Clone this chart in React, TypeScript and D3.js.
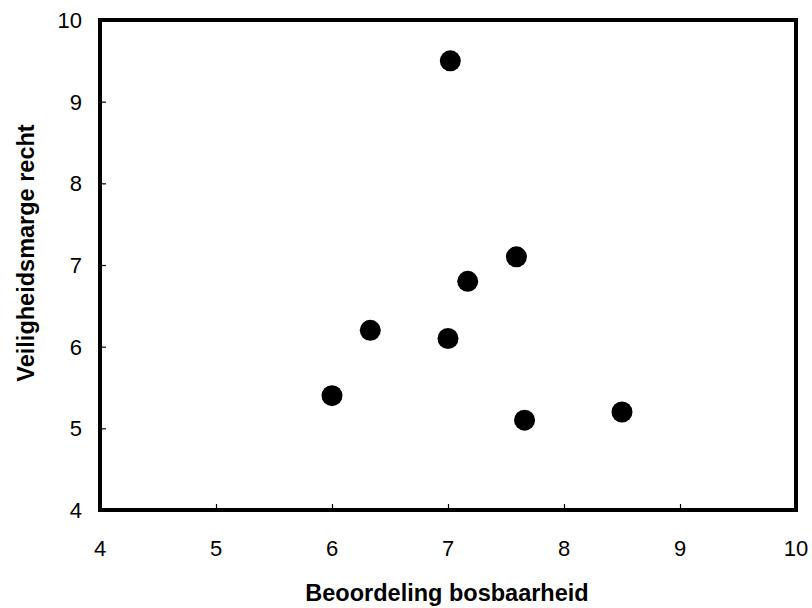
import React, { useEffect, useRef } from "react"
import * as d3 from "d3"

// beoordeling bosbaarheid (x) vs veiligheidsmarge recht (y)
const xValues = [7.02, 7.59, 7.17, 6.33, 7.0, 6.0, 7.66, 8.5]
const yValues = [9.5, 7.1, 6.8, 6.2, 6.1, 5.4, 5.1, 5.2]
const xTicks = [4, 5, 6, 7, 8, 9, 10]
const yTicks = [4, 5, 6, 7, 8, 9, 10]
const xTitle = "Beoordeling bosbaarheid"
const yTitle = "Veiligheidsmarge recht"

const width = 812
const height = 608
const margin = { top: 20, right: 16, bottom: 98, left: 100 }
const font = "'Liberation Sans', Arial, Helvetica, sans-serif"

const App = () => {
  const ref = useRef<SVGSVGElement>(null)

  useEffect(() => {
    const svg = d3.select(ref.current)
    svg.selectAll("*").remove()

    const x = d3.scaleLinear().domain([4, 10]).range([margin.left, width - margin.right])
    const y = d3.scaleLinear().domain([4, 10]).range([height - margin.bottom, margin.top])

    const x0 = x(4), x1 = x(10), y0 = y(4), y1 = y(10)

    // tick marks pointing inward
    svg
      .append("g")
      .attr("transform", `translate(0,${y0})`)
      .call(d3.axisTop(x).tickValues(xTicks).tickSize(6).tickFormat(() => ""))
      .call((g) => g.select(".domain").remove())
      .call((g) => g.selectAll("line").attr("stroke", "#000").attr("stroke-width", 1.2))

    svg
      .append("g")
      .attr("transform", `translate(${x0},0)`)
      .call(d3.axisRight(y).tickValues(yTicks).tickSize(6).tickFormat(() => ""))
      .call((g) => g.select(".domain").remove())
      .call((g) => g.selectAll("line").attr("stroke", "#000").attr("stroke-width", 1.2))

    // frame
    svg
      .append("rect")
      .attr("x", x0)
      .attr("y", y1)
      .attr("width", x1 - x0)
      .attr("height", y0 - y1)
      .attr("fill", "none")
      .attr("stroke", "#000")
      .attr("stroke-width", 4)

    // tick labels
    svg
      .append("g")
      .selectAll("text")
      .data(xTicks)
      .join("text")
      .attr("x", (d) => x(d))
      .attr("y", y0 + 45.5)
      .attr("text-anchor", "middle")
      .style("font-family", font)
      .style("font-size", "22px")
      .text((d) => d)

    svg
      .append("g")
      .selectAll("text")
      .data(yTicks)
      .join("text")
      .attr("x", x0 - 18)
      .attr("y", (d) => y(d) + 8)
      .attr("text-anchor", "end")
      .style("font-family", font)
      .style("font-size", "22px")
      .text((d) => d)

    // axis titles
    svg
      .append("text")
      .attr("x", 447)
      .attr("y", 601)
      .attr("text-anchor", "middle")
      .style("font-family", font)
      .style("font-size", "23.5px")
      .style("font-weight", "bold")
      .text(xTitle)

    svg
      .append("text")
      .attr("transform", `translate(34,253) rotate(-90)`)
      .attr("text-anchor", "middle")
      .style("font-family", font)
      .style("font-size", "23.5px")
      .style("font-weight", "bold")
      .text(yTitle)

    // points
    svg
      .append("g")
      .selectAll("circle")
      .data(xValues.map((v, i) => [v, yValues[i]]))
      .join("circle")
      .attr("cx", (d) => x(d[0]))
      .attr("cy", (d) => y(d[1]))
      .attr("r", 10.5)
      .attr("fill", "#000")
  }, [])

  return (
    <svg
      ref={ref}
      width={width}
      height={height}
      style={{ position: "absolute", left: 0, top: 0, background: "#fff" }}
    ></svg>
  )
}

export default App
